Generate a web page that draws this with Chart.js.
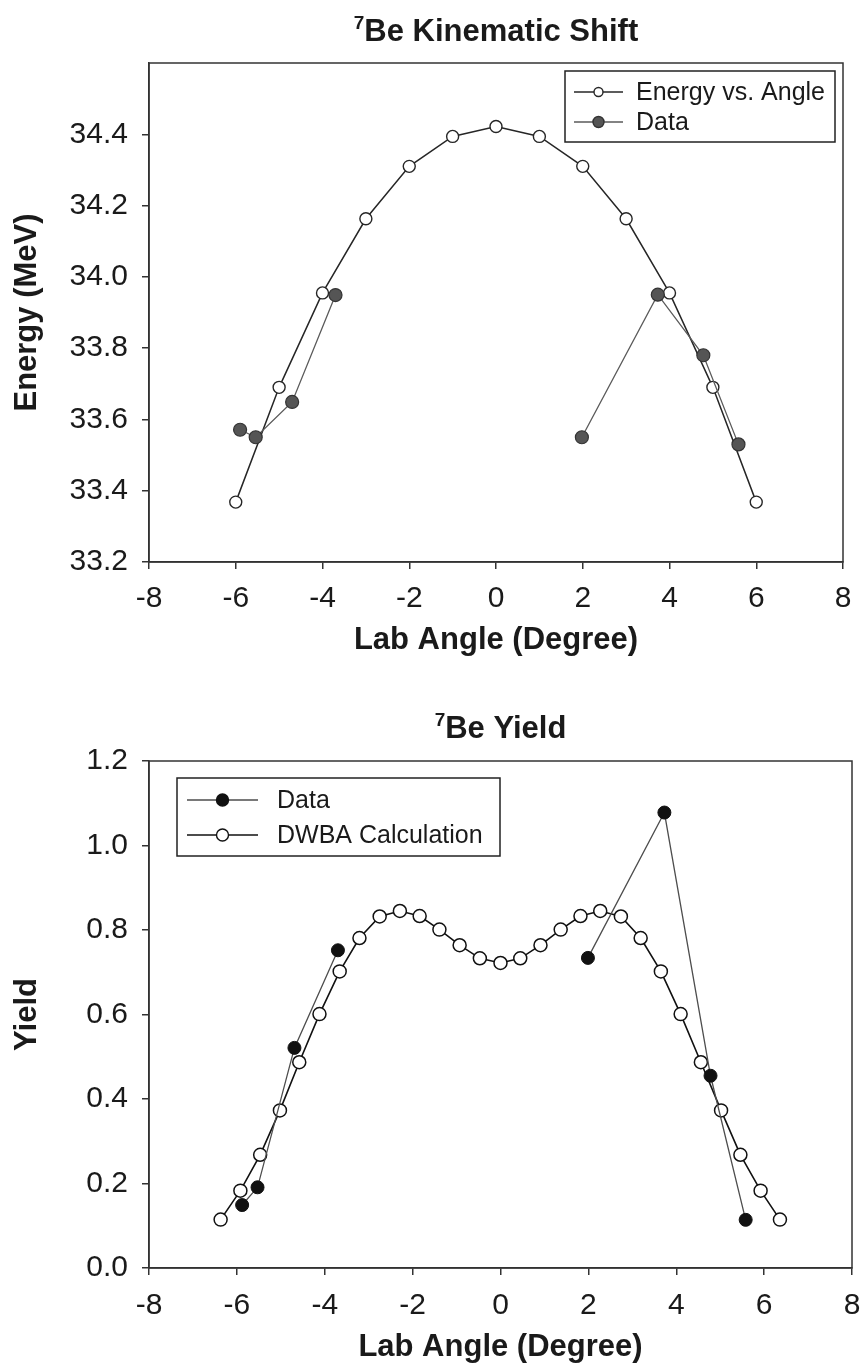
<!DOCTYPE html>
<html><head><meta charset="utf-8">
<script src="https://cdn.jsdelivr.net/npm/chart.js@4.4.0/dist/chart.umd.min.js"></script>
<style>
html,body{margin:0;padding:0;background:#fff;}
#w1{position:absolute;left:0;top:0;width:862px;height:680px;}
#w2{position:absolute;left:0;top:680px;width:862px;height:692px;}
</style></head><body>
<div id="w1"><canvas id="c1"></canvas></div>
<div id="w2"><canvas id="c2"></canvas></div>
<script>
// ---- Top chart data: 7Be Kinematic Shift ----
const energyAngles = [-6, -5, -4, -3, -2, -1, 0, 1, 2, 3, 4, 5, 6];
const energyValues = [33.368, 33.69, 33.955, 34.163, 34.31, 34.394, 34.422, 34.394, 34.31, 34.163, 33.955, 33.69, 33.368];
const shiftDataAngles = [-5.90, -5.54, -4.70, -3.70, 1.98, 3.73, 4.78, 5.59];
const shiftDataValues = [33.571, 33.550, 33.649, 33.949, 33.550, 33.950, 33.780, 33.530];
const shiftBreakAfter = 3;   // no line between 4th and 5th data point
const shiftYTicks = [33.2, 33.4, 33.6, 33.8, 34.0, 34.2, 34.4];

// ---- Bottom chart data: 7Be Yield ----
const dwbaAngles = [-6.37, -5.92, -5.47, -5.02, -4.58, -4.12, -3.66, -3.21, -2.75, -2.29, -1.84, -1.39, -0.93, -0.47, 0,
                    0.45, 0.91, 1.37, 1.82, 2.27, 2.74, 3.19, 3.65, 4.10, 4.56, 5.02, 5.46, 5.92, 6.36];
const dwbaValues = [0.1145, 0.183, 0.268, 0.373, 0.487, 0.601, 0.702, 0.781, 0.832, 0.845, 0.833, 0.801, 0.764, 0.733, 0.722,
                    0.733, 0.764, 0.801, 0.833, 0.845, 0.832, 0.781, 0.702, 0.601, 0.487, 0.373, 0.268, 0.183, 0.1145];
const yieldDataAngles = [-5.88, -5.53, -4.69, -3.70, 1.99, 3.73, 4.78, 5.58];
const yieldDataValues = [0.149, 0.191, 0.521, 0.752, 0.734, 1.078, 0.455, 0.114];
const yieldBreakAfter = 3;
const yieldYTicks = [0, 0.2, 0.4, 0.6, 0.8, 1.0, 1.2];

const xTickLabels = [-8, -6, -4, -2, 0, 2, 4, 6, 8];

const FONT = '"Liberation Sans", Arial, Helvetica, sans-serif';
const INK = '#1a1a1a';
const AXC = '#333';

function pts(xs, ys) { return xs.map((x, i) => ({x: x, y: ys[i]})); }

function decor(o) {
  return {
    id: 'decor',
    afterDraw(chart) {
      const ctx = chart.ctx, a = chart.chartArea;
      ctx.save();
      // frame
      ctx.strokeStyle = AXC; ctx.lineWidth = 1.5;
      ctx.strokeRect(a.left, a.top, a.right - a.left, a.bottom - a.top);
      // title with superscript
      const cx = (a.left + a.right) / 2;
      ctx.fillStyle = INK;
      ctx.textBaseline = 'alphabetic';
      ctx.font = 'bold 31px ' + FONT;
      const mainW = ctx.measureText(o.title).width;
      ctx.font = 'bold 19px ' + FONT;
      const supW = ctx.measureText('7').width;
      const x0 = cx - (mainW + supW) / 2;
      ctx.textAlign = 'left';
      ctx.fillText('7', x0, o.titleY - 12);
      ctx.font = 'bold 31px ' + FONT;
      ctx.fillText(o.title, x0 + supW, o.titleY);
      // legend box
      const L = o.legend;
      ctx.strokeStyle = '#222'; ctx.lineWidth = 1.5;
      ctx.strokeRect(L.x, L.y, L.w, L.h);
      ctx.font = '25px ' + FONT;
      ctx.textBaseline = 'middle';
      L.items.forEach((it, i) => {
        const y = L.y + L.row0 + i * L.rowH;
        ctx.strokeStyle = it.line; ctx.lineWidth = it.lw;
        ctx.beginPath(); ctx.moveTo(L.x + L.l0, y); ctx.lineTo(L.x + L.l1, y); ctx.stroke();
        ctx.beginPath(); ctx.arc(L.x + (L.l0 + L.l1) / 2, y, it.r, 0, Math.PI * 2);
        ctx.fillStyle = it.fill; ctx.fill();
        ctx.strokeStyle = it.stroke; ctx.lineWidth = 1.4; ctx.stroke();
        ctx.fillStyle = INK;
        ctx.fillText(it.label, L.x + L.tx, y + 1);
      });
      ctx.restore();
    }
  };
}

function axisX(titlePad, tickPad, h) {
  return {
    type: 'linear', min: -8, max: 8,
    afterBuildTicks: s => { s.ticks = xTickLabels.map(v => ({value: v})); },
    ticks: {callback: v => String(v), font: {family: FONT, size: 30}, color: INK, padding: tickPad, maxRotation: 0, autoSkip: false},
    grid: {drawOnChartArea: false, drawTicks: true, tickLength: 7, color: AXC, lineWidth: 1.5},
    border: {display: true, color: AXC, width: 1.5},
    title: {display: true, text: 'Lab Angle (Degree)', font: {family: FONT, size: 31, weight: 'bold'}, color: INK, padding: {top: 0, bottom: titlePad}},
    afterFit: s => { s.height = h; s.paddingLeft = 0; s.paddingRight = 0; }
  };
}
function axisY(min, max, ticks, title) {
  return {
    type: 'linear', min: min, max: max,
    afterBuildTicks: s => { s.ticks = ticks.map(v => ({value: v})); },
    ticks: {callback: v => Number(v).toFixed(1), font: {family: FONT, size: 30}, color: INK, padding: 14, autoSkip: false},
    grid: {drawOnChartArea: false, drawTicks: true, tickLength: 7, color: AXC, lineWidth: 1.5},
    border: {display: true, color: AXC, width: 1.5},
    title: {display: true, text: title, font: {family: FONT, size: 31, weight: 'bold'}, color: INK, padding: {top: 9, bottom: 0}},
    afterFit: s => { s.width = 149; s.paddingTop = 0; s.paddingBottom = 0; }
  };
}

// ---------- Top chart ----------
new Chart(document.getElementById('c1'), {
  type: 'line',
  data: {
    datasets: [
      {label: 'Data', data: pts(shiftDataAngles, shiftDataValues), borderColor: '#5a5a5a', borderWidth: 1.3,
       pointBackgroundColor: '#555', pointBorderColor: '#333', pointBorderWidth: 1.2, pointRadius: 6.5,
       segment: {borderColor: c => c.p0DataIndex === shiftBreakAfter ? 'rgba(0,0,0,0)' : '#5a5a5a'}},
      {label: 'Energy vs. Angle', data: pts(energyAngles, energyValues), borderColor: '#262626', borderWidth: 1.5,
       pointBackgroundColor: '#fff', pointBorderColor: '#262626', pointBorderWidth: 1.4, pointRadius: 6}
    ]
  },
  options: {
    responsive: true, maintainAspectRatio: false, animation: false,
    layout: {padding: {left: 0, right: 19, top: 63, bottom: 0}},
    plugins: {legend: {display: false}, tooltip: {enabled: false}},
    scales: {
      x: axisX(21, 12, 118),
      y: axisY(33.2, 34.6, shiftYTicks, 'Energy (MeV)')
    }
  },
  plugins: [decor({
    title: 'Be Kinematic Shift', titleY: 41,
    legend: {x: 565, y: 71, w: 270, h: 71, row0: 21, rowH: 30, l0: 9, l1: 58, tx: 71,
      items: [
        {label: 'Energy vs. Angle', line: '#262626', lw: 1.5, fill: '#fff', stroke: '#262626', r: 4.5},
        {label: 'Data', line: '#5a5a5a', lw: 1.3, fill: '#555', stroke: '#333', r: 5.5}
      ]}
  })]
});

// ---------- Bottom chart ----------
new Chart(document.getElementById('c2'), {
  type: 'line',
  data: {
    datasets: [
      {label: 'Data', data: pts(yieldDataAngles, yieldDataValues), borderColor: '#4d4d4d', borderWidth: 1.3,
       pointBackgroundColor: '#111', pointBorderColor: '#111', pointBorderWidth: 1, pointRadius: 6.5,
       segment: {borderColor: c => c.p0DataIndex === yieldBreakAfter ? 'rgba(0,0,0,0)' : '#4d4d4d'}},
      {label: 'DWBA Calculation', data: pts(dwbaAngles, dwbaValues), borderColor: '#111', borderWidth: 1.6,
       pointBackgroundColor: '#fff', pointBorderColor: '#111', pointBorderWidth: 1.5, pointRadius: 6.5}
    ]
  },
  options: {
    responsive: true, maintainAspectRatio: false, animation: false,
    layout: {padding: {left: 0, right: 10, top: 81, bottom: 0}},
    plugins: {legend: {display: false}, tooltip: {enabled: false}},
    scales: {
      x: axisX(6, 13, 104),
      y: axisY(0, 1.2, yieldYTicks, 'Yield')
    }
  },
  plugins: [decor({
    title: 'Be Yield', titleY: 58,
    legend: {x: 177, y: 98, w: 323, h: 78, row0: 22, rowH: 35, l0: 10, l1: 81, tx: 100,
      items: [
        {label: 'Data', line: '#4d4d4d', lw: 1.3, fill: '#111', stroke: '#111', r: 6},
        {label: 'DWBA Calculation', line: '#111', lw: 1.6, fill: '#fff', stroke: '#111', r: 6}
      ]}
  })]
});
</script>
</body></html>
